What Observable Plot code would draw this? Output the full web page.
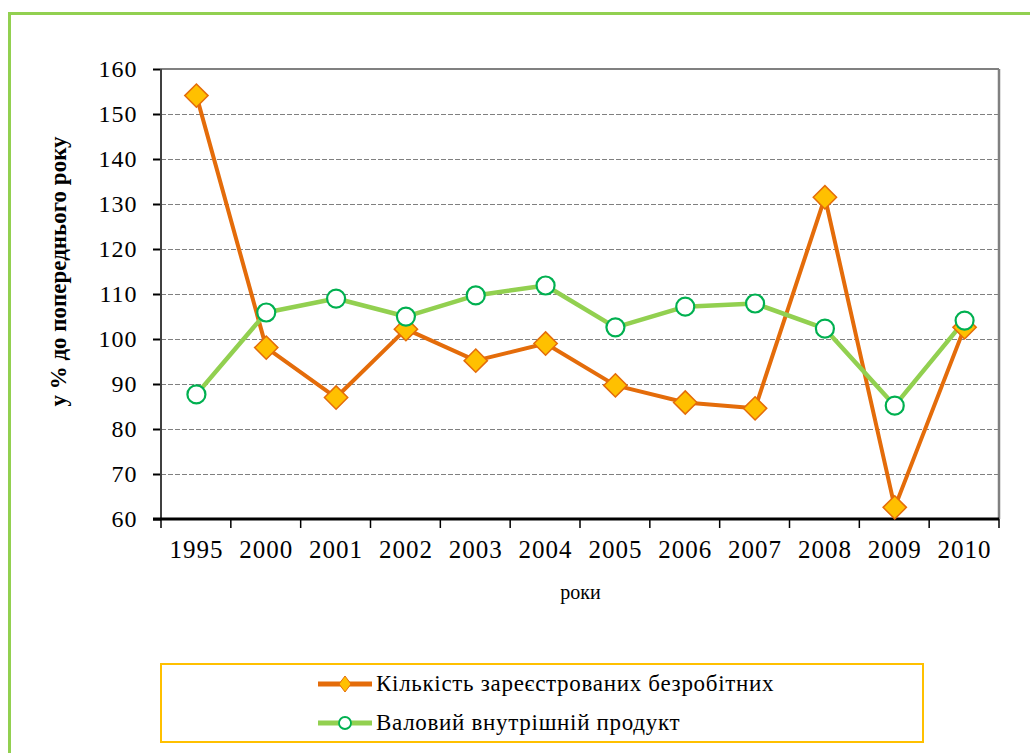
<!DOCTYPE html>
<html>
<head>
<meta charset="utf-8">
<script src="https://cdn.jsdelivr.net/npm/d3@7"></script>
<script src="https://cdn.jsdelivr.net/npm/@observablehq/plot@0.6"></script>
<style>
  html, body { margin: 0; padding: 0; background: #fff; overflow: hidden; }
  body { width: 1030px; height: 753px; position: relative; font-family: "Liberation Serif", "Times New Roman", Tinos, "DejaVu Serif", "Noto Serif", serif; }
  #frame { position: absolute; left: 8px; top: 12px; width: 1100px; height: 800px; border: 3px solid #92D050; box-sizing: border-box; }
  #chart { position: absolute; left: 0; top: 0; }
  #legend { position: absolute; left: 160px; top: 663px; width: 764px; height: 80px; border: 2px solid #FFC000; box-sizing: border-box; background: #fff; }
  .row { position: absolute; left: 156px; display: flex; align-items: center; height: 30px; font-size: 23px; letter-spacing: 0.7px; color: #000; white-space: nowrap; }
  .row svg { margin-right: 4px; }
</style>
</head>
<body>
<div id="frame"></div>
<div id="chart"></div>
<div id="legend"></div>
<script>
const years = ["1995","2000","2001","2002","2003","2004","2005","2006","2007","2008","2009","2010"];
const unemployed = [154.2, 98.2, 87.1, 102.3, 95.3, 99.1, 89.8, 86.0, 84.7, 131.6, 62.7, 102.7];
const gdp = [87.8, 106.0, 109.1, 105.1, 109.8, 112.0, 102.7, 107.3, 108.0, 102.4, 85.3, 104.2];
const seriesNames = ["Кількість зареєстрованих безробітних", "Валовий внутрішній продукт"];
const yTicks = [60, 70, 80, 90, 100, 110, 120, 130, 140, 150, 160];
const gridTicks = [70, 80, 90, 100, 110, 120, 130, 140, 150];
const yLabel = "у % до попереднього року";
const xLabel = "роки";

const orange = "#E46C0A", orangeFill = "#FFC000", green = "#92D050", greenDark = "#00B050";
const serif = '"Liberation Serif", "Times New Roman", Tinos, "DejaVu Serif", "Noto Serif", serif';

const dataU = years.map((y, i) => ({year: y, value: unemployed[i]}));
const dataG = years.map((y, i) => ({year: y, value: gdp[i]}));

// custom mark: band-boundary ticks on x axis, left/right/top frame lines
function frameMark(index, scales, values, dims) {
  const g = d3.create("svg:g");
  const x = scales.x, y = scales.y;
  const step = x(years[1]) - x(years[0]);
  const left = x(years[0]) - step / 2;
  const right = x(years[years.length - 1]) + step / 2;
  const top = y(160), bottom = y(60);
  g.append("line").attr("x1", left).attr("x2", right).attr("y1", top).attr("y2", top)
    .attr("stroke", "#808080").attr("stroke-width", 2);
  g.append("line").attr("x1", right).attr("x2", right).attr("y1", top).attr("y2", bottom)
    .attr("stroke", "#808080").attr("stroke-width", 2.5);
  g.append("line").attr("x1", left).attr("x2", left).attr("y1", top).attr("y2", bottom)
    .attr("stroke", "#404040").attr("stroke-width", 2);
  for (let i = 0; i <= years.length; i++) {
    const xx = left + i * step;
    g.append("line").attr("x1", xx).attr("x2", xx).attr("y1", bottom).attr("y2", bottom + 9)
      .attr("stroke", "#000").attr("stroke-width", 1.5);
  }
  g.append("line").attr("x1", left - 8).attr("x2", right).attr("y1", bottom).attr("y2", bottom)
    .attr("stroke", "#000").attr("stroke-width", 3);
  return g.node();
}

const plot = Plot.plot({
  width: 1030,
  height: 630,
  marginLeft: 161,
  marginRight: 31,
  marginTop: 69,
  marginBottom: 111,
  style: {fontFamily: serif, background: "transparent", overflow: "visible"},
  x: {type: "point", domain: years, padding: 0.5, round: false, label: null},
  y: {domain: [60, 160], label: null},
  marks: [
    Plot.gridY(gridTicks, {stroke: "#808080", strokeOpacity: 1, strokeWidth: 1, strokeDasharray: "5,2"}),
    Plot.axisY(yTicks, {tickSize: 8, tickPadding: 16, fontSize: 24, stroke: "#000", strokeWidth: 2, fill: "#000", label: null}),
    Plot.axisX({tickSize: 0, tickPadding: 21, fontSize: 25, fill: "#000", label: null}),
    frameMark,
    Plot.text([yLabel], {frameAnchor: "left", textAnchor: "middle", dx: -103, dy: -23, rotate: -90, fontSize: 23, fontWeight: "bold", fill: "#000"}),
    Plot.text([xLabel], {frameAnchor: "bottom", dy: 79, fontSize: 20, fill: "#000"}),
    Plot.line(dataU, {x: "year", y: "value", stroke: orange, strokeWidth: 4}),
    Plot.line(dataG, {x: "year", y: "value", stroke: green, strokeWidth: 4.5}),
    Plot.dot(dataU, {x: "year", y: "value", symbol: "diamond2", r: 10.5, fill: orangeFill, stroke: orange, strokeWidth: 1.5}),
    Plot.dot(dataG, {x: "year", y: "value", r: 9, fill: "#fff", stroke: greenDark, strokeWidth: 2.2})
  ]
});
// slightly wider tick label spacing, as in the reference
plot.querySelectorAll('g[aria-label="x-axis tick label"] text').forEach(t => t.setAttribute("letter-spacing", "1"));
plot.querySelectorAll('g[aria-label="y-axis tick label"] text').forEach(t => t.setAttribute("letter-spacing", "1"));
document.getElementById("chart").appendChild(plot);

const legend = document.getElementById("legend");
const swatches = [
  {color: orange, marker: `<path d="M27,3 L33,11 L27,19 L21,11 Z" fill="${orangeFill}" stroke="${orange}" stroke-width="1"/>`},
  {color: green, marker: `<circle cx="27" cy="11" r="6" fill="#fff" stroke="${greenDark}" stroke-width="1.8"/>`}
];
const rowTops = [4, 43];
seriesNames.forEach((name, i) => {
  const row = document.createElement("div");
  row.className = "row";
  row.style.top = rowTops[i] + "px";
  row.innerHTML = `<svg width="54" height="22"><line x1="0" x2="54" y1="11" y2="11" stroke="${swatches[i].color}" stroke-width="5"/>${swatches[i].marker}</svg><span>${name}</span>`;
  legend.appendChild(row);
});
</script>
</body>
</html>
